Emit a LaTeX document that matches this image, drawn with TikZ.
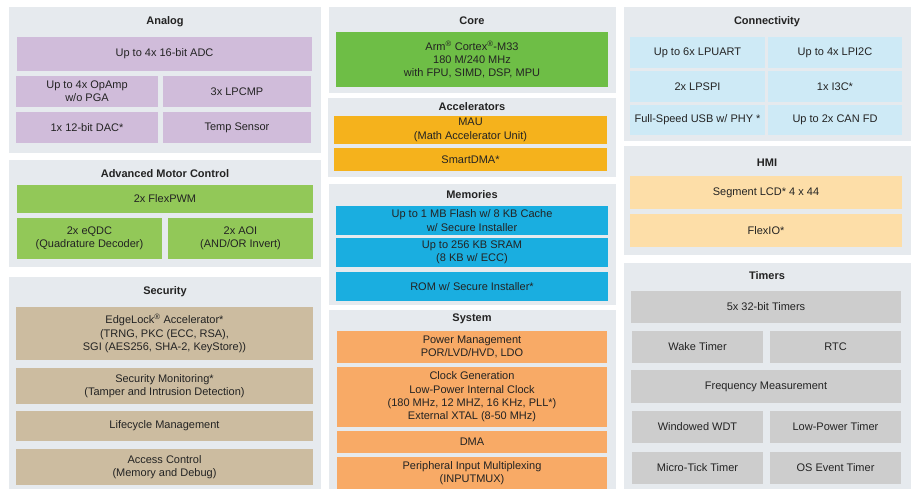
\documentclass[tikz,border=0pt]{standalone}
\usepackage{fontspec}
\setmainfont{Liberation Sans}
\definecolor{panelc}{RGB}{230,234,238}
\definecolor{analogc}{RGB}{208,188,218}
\definecolor{motorc}{RGB}{146,200,88}
\definecolor{securc}{RGB}{204,188,160}
\definecolor{corec}{RGB}{110,190,70}
\definecolor{accelc}{RGB}{245,178,28}
\definecolor{memc}{RGB}{26,174,224}
\definecolor{sysc}{RGB}{248,170,102}
\definecolor{connc}{RGB}{206,234,246}
\definecolor{hmic}{RGB}{253,222,168}
\definecolor{timc}{RGB}{205,205,205}
\definecolor{txtc}{RGB}{35,35,35}
\tikzset{
  blk/.style={rectangle, draw=none, inner sep=0pt, align=center, text=txtc},
  ttl/.style={inner sep=0pt, font=\fontsize{11}{13.3}\selectfont\bfseries, text=txtc}
}
\newcommand\bx[7]{\node[blk,fill=#6,minimum width={(#4-#2)*1pt},minimum height={(#5-#3)*1pt}] (#1) at ({(#2+#4)/2},{(#3+#5)/2}) {#7};}
\newcommand\reg{\textsuperscript{\textregistered}}
\begin{document}
\begin{tikzpicture}[x=1pt,y=-1pt,font=\fontsize{11}{13.3}\selectfont]
\useasboundingbox[fill=white] (0,0) rectangle (914,489);
% panels
\bx{pAnalog}{9}{7}{321}{153}{panelc}{}
\bx{pMotor}{9}{160}{321}{267}{panelc}{}
\bx{pSec}{9}{277}{321}{489}{panelc}{}
\bx{pCore}{329}{7}{616}{93}{panelc}{}
\bx{pAcc}{328}{98}{616}{177}{panelc}{}
\bx{pMem}{329}{184}{616}{305}{panelc}{}
\bx{pSys}{329}{310}{616}{489}{panelc}{}
\bx{pConn}{624}{7}{911}{141}{panelc}{}
\bx{pHmi}{624}{146}{911}{255}{panelc}{}
\bx{pTim}{624}{263}{911}{489}{panelc}{}
% titles
\node[ttl] (tAnalog) at (165,22) {Analog};
\node[ttl] (tMotor) at (165,174) {Advanced Motor Control};
\node[ttl] (tSec) at (165,292) {Security};
\node[ttl] (tCore) at (472,21) {Core};
\node[ttl] (tAcc) at (472,107) {Accelerators};
\node[ttl] (tMem) at (472,195) {Memories};
\node[ttl] (tSys) at (472,319) {System};
\node[ttl] (tConn) at (767,22) {Connectivity};
\node[ttl] (tHmi) at (767,163) {HMI};
\node[ttl] (tTim) at (767,276) {Timers};
% Analog
\bx{adc}{17}{37}{312}{71}{analogc}{Up to 4x 16-bit ADC}
\bx{opamp}{16}{76}{158}{107}{analogc}{Up to 4x OpAmp\\w/o PGA}
\bx{lpcmp}{163}{76}{311}{107}{analogc}{3x LPCMP}
\bx{dac}{16}{112}{158}{143}{analogc}{1x 12-bit DAC*}
\bx{temp}{163}{112}{311}{143}{analogc}{Temp Sensor}
% Motor
\bx{pwm}{17}{185}{313}{213}{motorc}{2x FlexPWM}
\bx{eqdc}{17}{218}{162}{259}{motorc}{2x eQDC\\(Quadrature Decoder)}
\bx{aoi}{168}{218}{313}{259}{motorc}{2x AOI\\(AND/OR Invert)}
% Security
\bx{edge}{16}{307}{313}{360}{securc}{EdgeLock\reg{} Accelerator*\\(TRNG, PKC (ECC, RSA),\\SGI (AES256, SHA-2, KeyStore))}
\bx{secmon}{16}{368}{313}{404}{securc}{Security Monitoring*\\(Tamper and Intrusion Detection)}
\bx{life}{16}{411}{313}{441}{securc}{Lifecycle Management}
\bx{access}{16}{449}{313}{485}{securc}{Access Control\\(Memory and Debug)}
% Core
\bx{core}{336}{32}{608}{87}{corec}{Arm\reg{} Cortex\reg{}-M33\\180 M/240 MHz\\with FPU, SIMD, DSP, MPU}
% Accelerators
\bx{mau}{334}{116}{607}{144}{accelc}{MAU\\(Math Accelerator Unit)}
\bx{sdma}{334}{148}{607}{171}{accelc}{SmartDMA*}
% Memories
\bx{flash}{336}{206}{608}{235}{memc}{Up to 1 MB Flash w/ 8 KB Cache\\w/ Secure Installer}
\bx{sram}{336}{238}{608}{267}{memc}{Up to 256 KB SRAM\\(8 KB w/ ECC)}
\bx{rom}{336}{272}{608}{301}{memc}{ROM w/ Secure Installer*}
% System
\bx{pwr}{337}{331}{607}{363}{sysc}{Power Management\\POR/LVD/HVD, LDO}
\bx{clk}{337}{367}{607}{427}{sysc}{Clock Generation\\Low-Power Internal Clock\\(180 MHz, 12 MHZ, 16 KHz, PLL*)\\External XTAL (8-50 MHz)}
\bx{dma}{337}{431}{607}{453}{sysc}{DMA}
\bx{pim}{337}{457}{607}{489}{sysc}{Peripheral Input Multiplexing\\(INPUTMUX)}
% Connectivity
\bx{uart}{630}{37}{765}{68}{connc}{Up to 6x LPUART}
\bx{i2c}{768}{37}{902}{68}{connc}{Up to 4x LPI2C}
\bx{spi}{630}{71}{765}{102}{connc}{2x LPSPI}
\bx{i3c}{768}{71}{902}{102}{connc}{1x I3C*}
\bx{usb}{630}{105}{765}{135}{connc}{Full-Speed USB w/ PHY *}
\bx{can}{768}{105}{902}{135}{connc}{Up to 2x CAN FD}
% HMI
\bx{lcd}{630}{176}{902}{209}{hmic}{Segment LCD* 4 x 44}
\bx{flexio}{630}{214}{902}{247}{hmic}{FlexIO*}
% Timers
\bx{t32}{631}{291}{901}{323}{timc}{5x 32-bit Timers}
\bx{wake}{632}{331}{763}{363}{timc}{Wake Timer}
\bx{rtc}{770}{331}{901}{363}{timc}{RTC}
\bx{freq}{631}{370}{901}{403}{timc}{Frequency Measurement}
\bx{wdt}{632}{411}{763}{443}{timc}{Windowed WDT}
\bx{lpt}{770}{411}{901}{443}{timc}{Low-Power Timer}
\bx{utick}{632}{452}{763}{484}{timc}{Micro-Tick Timer}
\bx{ostim}{770}{452}{901}{484}{timc}{OS Event Timer}
\end{tikzpicture}
\end{document}
